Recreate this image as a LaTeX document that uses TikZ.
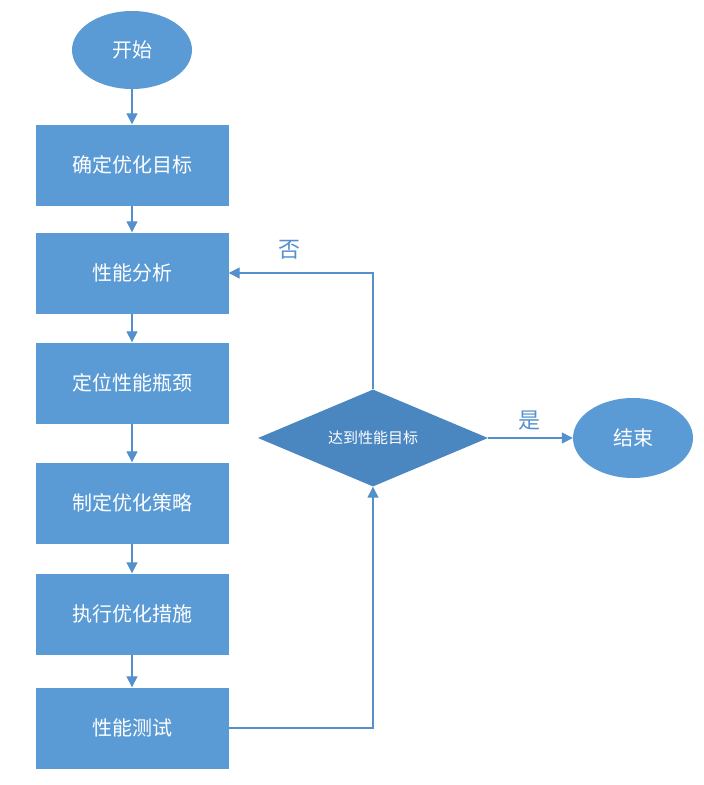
\documentclass[tikz,border=0pt]{standalone}
\usepackage{fontspec}
\setmainfont{Noto Sans CJK SC}
\usetikzlibrary{arrows.meta,shapes.geometric}
\definecolor{boxblue}{RGB}{91,155,213}
\definecolor{decblue}{RGB}{74,134,192}
\definecolor{lineblue}{RGB}{84,144,204}
\tikzset{
  stepbox/.style={rectangle, fill=boxblue, draw=none, minimum width=193pt, minimum height=81pt, text=white, font=\fontsize{20pt}{24pt}\selectfont},
  termnode/.style={ellipse, fill=boxblue, draw=none, minimum width=120pt, minimum height=78pt, text=white, font=\fontsize{20pt}{24pt}\selectfont},
  decnode/.style={diamond, fill=decblue, draw=none, aspect=2.37, minimum width=230pt, minimum height=97pt, inner sep=0pt, text=white, font=\fontsize{15pt}{18pt}\selectfont},
  flow/.style={draw=lineblue, line width=1.3pt, -{Triangle[length=11pt,width=11pt]}},
  answer/.style={text=lineblue, font=\fontsize{22pt}{26pt}\selectfont}
}
\begin{document}
\begin{tikzpicture}[x=1pt,y=1pt,yscale=-1]
\useasboundingbox (0,0) rectangle (704,785);
% Nodes
\node[termnode] (start) at (132,50) {开始};
\node[stepbox] (goal) at (132,165) {确定优化目标};
\node[stepbox] (analyse) at (132,273) {性能分析};
\node[stepbox] (locate) at (132,383) {定位性能瓶颈};
\node[stepbox] (plan) at (132,503) {制定优化策略};
\node[stepbox] (apply) at (132,614) {执行优化措施};
\node[stepbox] (test) at (132,728) {性能测试};
\node[decnode] (check) at (373,438) {达到性能目标};
\node[termnode, minimum height=80pt] (finish) at (633,438) {结束};
% Labels
\node[answer] (no) at (289,250) {否};
\node[answer] (yes) at (529,421) {是};
% Connectors
\draw[flow] (start) -- (goal);
\draw[flow] (goal) -- (analyse);
\draw[flow] (analyse) -- (locate);
\draw[flow] (locate) -- (plan);
\draw[flow] (plan) -- (apply);
\draw[flow] (apply) -- (test);
\draw[flow] (test.east) -| (check.south);
\draw[flow] (check.north) |- (analyse.east);
\draw[flow] (check.east) -- (finish.west);
\end{tikzpicture}
\end{document}
